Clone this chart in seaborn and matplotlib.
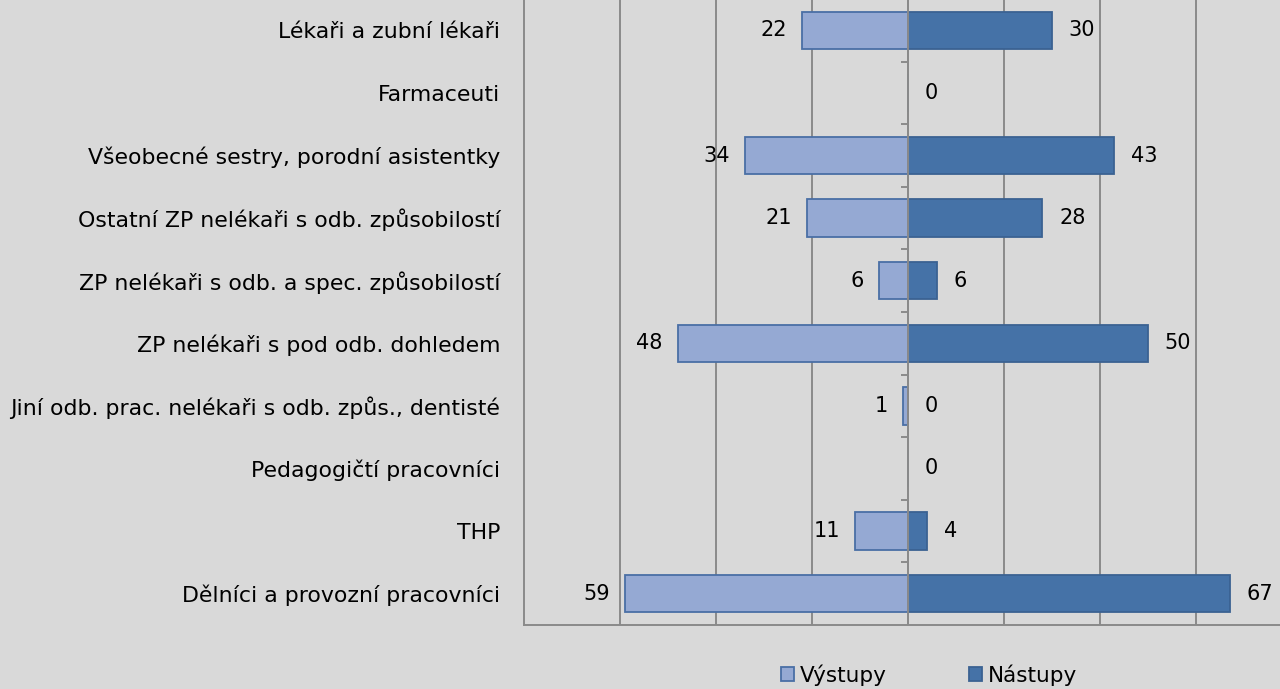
import matplotlib

matplotlib.use("Agg")
import matplotlib.pyplot as plt
import pandas as pd
import seaborn as sns
from matplotlib.patches import Patch

# Data
categories = [
    "Lékaři a zubní lékaři",
    "Farmaceuti",
    "Všeobecné sestry, porodní asistentky",
    "Ostatní ZP nelékaři s odb. způsobilostí",
    "ZP nelékaři s odb. a spec. způsobilostí",
    "ZP nelékaři s pod odb. dohledem",
    "Jiní odb. prac. nelékaři s odb. způs., dentisté",
    "Pedagogičtí pracovníci",
    "THP",
    "Dělníci a provozní pracovníci",
]
vystupy = [22, None, 34, 21, 6, 48, 1, None, 11, 59]
nastupy = [30, 0, 43, 28, 6, 50, 0, 0, 4, 67]
series_names = ["Výstupy", "Nástupy"]

BG = "#d9d9d9"
GRID = "#8a8a8a"
FILL = {"Výstupy": "#95a9d3", "Nástupy": "#4572a7"}
EDGE = {"Výstupy": "#4a6fa5", "Nástupy": "#3b6292"}

sns.set_style("white")
plt.rcParams["font.family"] = ["DejaVu Sans"]
plt.rcParams["text.color"] = "black"
plt.rcParams["ytick.color"] = "black"

rows = []
for cat, v, n in zip(categories, vystupy, nastupy):
    if v is not None:
        rows.append({"cat": cat, "series": "Výstupy", "value": -v, "label": v})
    rows.append({"cat": cat, "series": "Nástupy", "value": n, "label": n})
df = pd.DataFrame(rows)

fig = plt.figure(figsize=(12.8, 6.89), dpi=100, facecolor=BG)
ax = fig.add_axes([524 / 1280, 64 / 689, 768 / 1280, 626 / 689])
ax.set_facecolor(BG)

sns.barplot(
    data=df, y="cat", x="value", hue="series", order=categories,
    hue_order=series_names, dodge=False, width=0.6, palette=FILL,
    saturation=1, legend=False, ax=ax, linewidth=1.3,
)
for cont, name in zip(ax.containers, series_names):
    sub = df[df["series"] == name]
    labs = {c: l for c, l in zip(sub["cat"], sub["label"])}
    for bar in cont:
        bar.set_edgecolor(EDGE[name])
        yc = bar.get_y() + bar.get_height() / 2
        cat = categories[int(round(yc))]
        if cat not in labs:
            continue
        x0, x1 = sorted([bar.get_x(), bar.get_x() + bar.get_width()])
        if name == "Výstupy":
            ax.annotate(f"{labs[cat]}", (x0, yc), xytext=(-11, 0),
                        textcoords="offset points", ha="right", va="center",
                        fontsize=15)
        else:
            ax.annotate(f"{labs[cat]}", (x1, yc), xytext=(12, 0),
                        textcoords="offset points", ha="left", va="center",
                        fontsize=15)

ax.set_xlim(-80, 80)
ax.set_ylim(len(categories) - 0.5, -0.5)
ax.set_xticks(range(-60, 80, 20))
ax.set_xticklabels([])
ax.tick_params(axis="x", length=0)
ax.tick_params(axis="y", length=0, pad=17, labelsize=15.8, labelcolor="black")
ax.set_xlabel("")
ax.set_ylabel("")
ax.grid(axis="x", color=GRID, linewidth=1.4)
ax.set_axisbelow(True)
for side in ["top", "right"]:
    ax.spines[side].set_visible(False)
for side in ["left", "bottom"]:
    ax.spines[side].set_color(GRID)
    ax.spines[side].set_linewidth(1.4)

# centre axis line with small category ticks
ax.axvline(0, color=GRID, linewidth=1.4, zorder=3)
bounds = [i + 0.5 for i in range(len(categories) - 1)]
ax.hlines(bounds, -1.5, 0, color=GRID, linewidth=1.4, zorder=3)

handles = [Patch(facecolor=FILL[n], edgecolor=EDGE[n], linewidth=1.3, label=n)
           for n in series_names]
leg = fig.legend(
    handles=handles, loc="center", bbox_to_anchor=(929 / 1280, 1 - 675 / 689),
    ncol=2, frameon=False, fontsize=15.5, handlelength=0.6, handleheight=0.6,
    handletextpad=0.3, columnspacing=3.8,
)
for t in leg.get_texts():
    t.set_color("black")

fig.savefig("out.png", dpi=100, facecolor=BG)
